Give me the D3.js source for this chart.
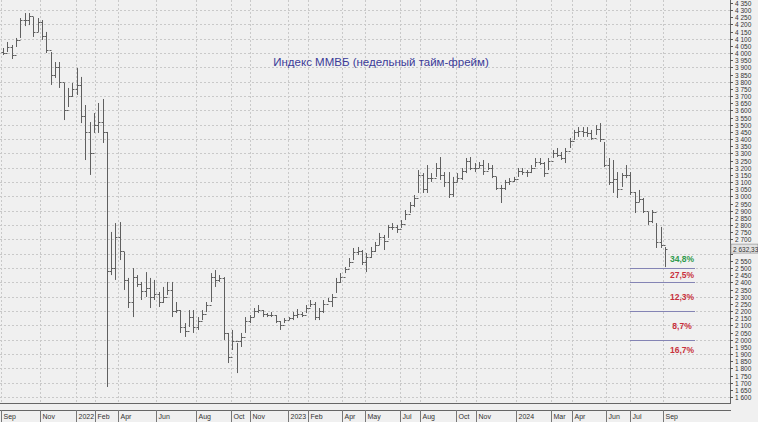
<!DOCTYPE html>
<html><head><meta charset="utf-8">
<script src="https://cdn.jsdelivr.net/npm/d3@7"></script>
<style>body{margin:0;background:#f0f0f0}svg{display:block}</style>
</head><body><svg id="c" width="758" height="422"></svg>
<script>
const highs=[4036,4078,4057,4106,4245,4280,4280,4252,4245,4231,4148,4008,3938,3938,3792,3757,3792,3896,3834,3638,3519,3582,3652,3680,3450,2752,2814,2821,2612,2431,2500,2451,2403,2472,2431,2417,2333,2368,2403,2403,2263,2207,2116,2207,2207,2158,2207,2263,2465,2486,2451,2437,2047,2068,1977,2047,2158,2172,2221,2242,2207,2186,2193,2172,2130,2151,2158,2193,2214,2193,2242,2277,2263,2221,2277,2291,2319,2431,2465,2507,2570,2640,2647,2626,2605,2647,2682,2745,2731,2801,2814,2801,2835,2905,2961,3010,3184,3163,3219,3163,3233,3275,3170,3170,3136,3163,3198,3268,3275,3233,3240,3254,3233,3219,3136,3080,3115,3128,3136,3198,3198,3184,3219,3268,3268,3240,3268,3324,3338,3310,3338,3408,3464,3484,3484,3484,3464,3498,3512,3380,3268,3254,3170,3163,3219,3170,3031,3045,2989,2891,2905,2814,2787,2647];
const lows=[3987,4008,3959,4043,4106,4189,4196,4113,4148,4092,4001,3778,3827,3757,3533,3624,3694,3708,3512,3254,3150,3443,3443,3373,1670,2451,2417,2556,2347,2221,2158,2368,2277,2298,2221,2277,2228,2256,2312,2158,2186,2047,2019,2089,2047,2068,2137,2193,2263,2368,2403,1998,1837,1928,1767,1949,2047,2116,2158,2186,2158,2158,2158,2116,2068,2116,2137,2137,2151,2158,2186,2228,2137,2137,2186,2263,2228,2326,2396,2465,2507,2556,2591,2521,2472,2570,2612,2661,2626,2710,2766,2745,2780,2835,2884,2926,3024,3024,3024,3101,3136,3115,3066,2989,2996,3101,3115,3163,3184,3170,3198,3150,3184,3128,3045,2954,3045,3080,3101,3136,3150,3136,3163,3205,3219,3136,3184,3268,3275,3254,3233,3338,3394,3415,3415,3415,3394,3429,3380,3205,3080,3024,2989,3066,3128,3010,2884,2961,2884,2801,2814,2640,2640,2507];
const closes=[4000,4040,3990,4090,4230,4230,4260,4150,4220,4120,4020,3850,3900,3800,3600,3700,3750,3780,3560,3450,3300,3500,3520,3450,2480,2500,2720,2620,2420,2260,2440,2390,2340,2360,2300,2320,2260,2300,2350,2200,2210,2090,2060,2160,2090,2130,2180,2240,2440,2420,2430,2050,1880,1990,1990,2020,2130,2160,2200,2210,2180,2170,2170,2130,2100,2140,2150,2170,2180,2170,2220,2250,2160,2200,2250,2270,2300,2400,2440,2490,2540,2610,2620,2540,2580,2620,2660,2720,2690,2790,2790,2770,2810,2880,2940,2990,3150,3050,3130,3130,3200,3150,3100,3020,3100,3130,3180,3250,3200,3200,3220,3180,3200,3140,3060,3060,3100,3110,3120,3180,3170,3170,3200,3240,3230,3160,3250,3300,3290,3270,3320,3390,3450,3460,3450,3440,3410,3470,3400,3220,3100,3120,3050,3150,3150,3030,2960,2980,2900,2830,2890,2680,2660,2632.33];
const opens=[4010,4000,4040,3990,4090,4230,4230,4260,4150,4220,4120,4020,3850,3900,3800,3600,3700,3750,3780,3560,3450,3300,3500,3520,3450,2480,2500,2720,2620,2420,2260,2440,2390,2340,2360,2300,2320,2260,2300,2350,2200,2210,2090,2060,2160,2090,2130,2180,2240,2440,2420,2430,2050,1880,1990,1990,2020,2130,2160,2200,2210,2180,2170,2170,2130,2100,2140,2150,2170,2180,2170,2220,2250,2160,2200,2250,2270,2300,2400,2440,2490,2540,2610,2620,2540,2580,2620,2660,2720,2690,2790,2790,2770,2810,2880,2940,2990,3150,3050,3130,3130,3200,3150,3100,3020,3100,3130,3180,3250,3200,3200,3220,3180,3200,3140,3060,3060,3100,3110,3120,3180,3170,3170,3200,3240,3230,3160,3250,3300,3290,3270,3320,3390,3450,3460,3450,3440,3410,3470,3400,3220,3100,3120,3050,3150,3150,3030,2960,2980,2900,2830,2890,2680,2660];
const monthLabels=["Sep","Nov","2022","Feb","Apr","Jun","Aug","Oct","Nov","2023","Feb","Apr","May","Jul","Aug","Oct","Nov","2024","Mar","Apr","Jun","Jul","Sep"];
const monthIdx=[0,9,17.3,21.7,27,35.8,45,53.2,57.5,66.3,71,78.8,84.1,92.2,96.8,105.2,109.8,119,127.1,132,139.8,145.4,153];
const levels=[2500,2400,2200,2000];
const pctLabels=["34,8%","27,5%","12,3%","8,7%","16,7%"];
const pctPrices=[2565,2455,2300,2095,1930];
const lastPrice=2632.33;
const title="Индекс ММВБ (недельный тайм-фрейм)";

const svg=d3.select("#c");
const x=d3.scaleLinear().domain([0,153]).range([3,665]);
const y=d3.scaleLinear().domain([1600,4350]).range([397,3]);
const plotR=730, plotB=403;
svg.append("rect").attr("width",758).attr("height",422).attr("fill","#f0f0f0");
const yt=d3.range(1600,4351,50);
svg.append("g").selectAll("line").data(d3.range(1600,4351,100)).join("line")
 .attr("x1",0).attr("x2",plotR).attr("y1",d=>Math.round(y(d))+.5).attr("y2",d=>Math.round(y(d))+.5)
 .attr("stroke","#c9c9c9").attr("stroke-dasharray","2,2");
svg.append("g").selectAll("line").data(monthIdx).join("line")
 .attr("x1",d=>Math.round(x(d))-1.5).attr("x2",d=>Math.round(x(d))-1.5).attr("y1",0).attr("y2",plotB)
 .attr("stroke","#c9c9c9").attr("stroke-dasharray","2,2");
svg.append("text").attr("x",380).attr("y",66).attr("text-anchor","middle")
 .attr("font-family","Liberation Sans, Arial").attr("font-size",11.5).attr("fill","#3b3b98").text(title)
 .attr("x",381);
const g=svg.append("g").attr("stroke","#606060").attr("stroke-width",1);
highs.forEach((h,i)=>{
 const cx=Math.round(x(i))+.5;
 g.append("line").attr("x1",cx).attr("x2",cx).attr("y1",y(h)).attr("y2",y(lows[i]));
 g.append("line").attr("x1",cx-2).attr("x2",cx).attr("y1",Math.round(y(opens[i]))+.5).attr("y2",Math.round(y(opens[i]))+.5);
 g.append("line").attr("x1",cx).attr("x2",cx+2).attr("y1",Math.round(y(closes[i]))+.5).attr("y2",Math.round(y(closes[i]))+.5);
});
svg.append("g").selectAll("line").data(levels).join("line")
 .attr("x1",630).attr("x2",695).attr("y1",d=>Math.round(y(d))+.5).attr("y2",d=>Math.round(y(d))+.5)
 .attr("stroke","#8484b4").attr("stroke-width",1);
svg.append("g").selectAll("text").data(pctLabels).join("text")
 .attr("x",682).attr("y",(d,i)=>y(pctPrices[i])+3).attr("text-anchor","middle")
 .attr("font-family","Liberation Sans, Arial").attr("font-size",8.5).attr("font-weight","bold")
 .attr("fill",(d,i)=>i===0?"#2f9a4c":"#c8303c").text(d=>d);
svg.append("line").attr("x1",plotR+.5).attr("x2",plotR+.5).attr("y1",0).attr("y2",plotB).attr("stroke","#666");
const fmt=d=>String(d).replace(/(\d)(\d{3})$/,"$1 $2");
const ay=svg.append("g");
const ly=y(lastPrice);
yt.forEach(v=>{
 const yy=Math.round(y(v))+.5;
 ay.append("line").attr("x1",plotR).attr("x2",plotR+3).attr("y1",yy).attr("y2",yy).attr("stroke","#555");
 if(Math.abs(yy-ly)<8) return;
 ay.append("text").attr("x",plotR+5).attr("y",yy+2.5).attr("font-family","Liberation Sans, Arial")
  .attr("font-size",6.5).attr("fill","#333").text(fmt(v));
});
svg.append("rect").attr("x",plotR+1).attr("y",ly-5).attr("width",27).attr("height",9)
 .attr("fill","#e2e2e2").attr("stroke","#888").attr("stroke-width",.6);
svg.append("text").attr("x",plotR+3).attr("y",ly+2.5).attr("font-family","Liberation Sans, Arial")
 .attr("font-size",6.5).attr("fill","#333").text("2 632,33");
svg.append("line").attr("x1",0).attr("x2",plotR+1).attr("y1",plotB+.5).attr("y2",plotB+.5).attr("stroke","#666");
svg.append("line").attr("x1",0).attr("x2",plotR+1).attr("y1",410.5).attr("y2",410.5).attr("stroke","#666");
const ax=svg.append("g");
monthLabels.forEach((m,i)=>{
 const xx=Math.round(x(monthIdx[i]))-1.5;
 ax.append("line").attr("x1",xx).attr("x2",xx).attr("y1",410).attr("y2",422).attr("stroke","#777");
 ax.append("text").attr("x",xx+2).attr("y",419).attr("font-family","Liberation Sans, Arial")
  .attr("font-size",7).attr("fill","#333").text(m);
});
</script></body></html>
